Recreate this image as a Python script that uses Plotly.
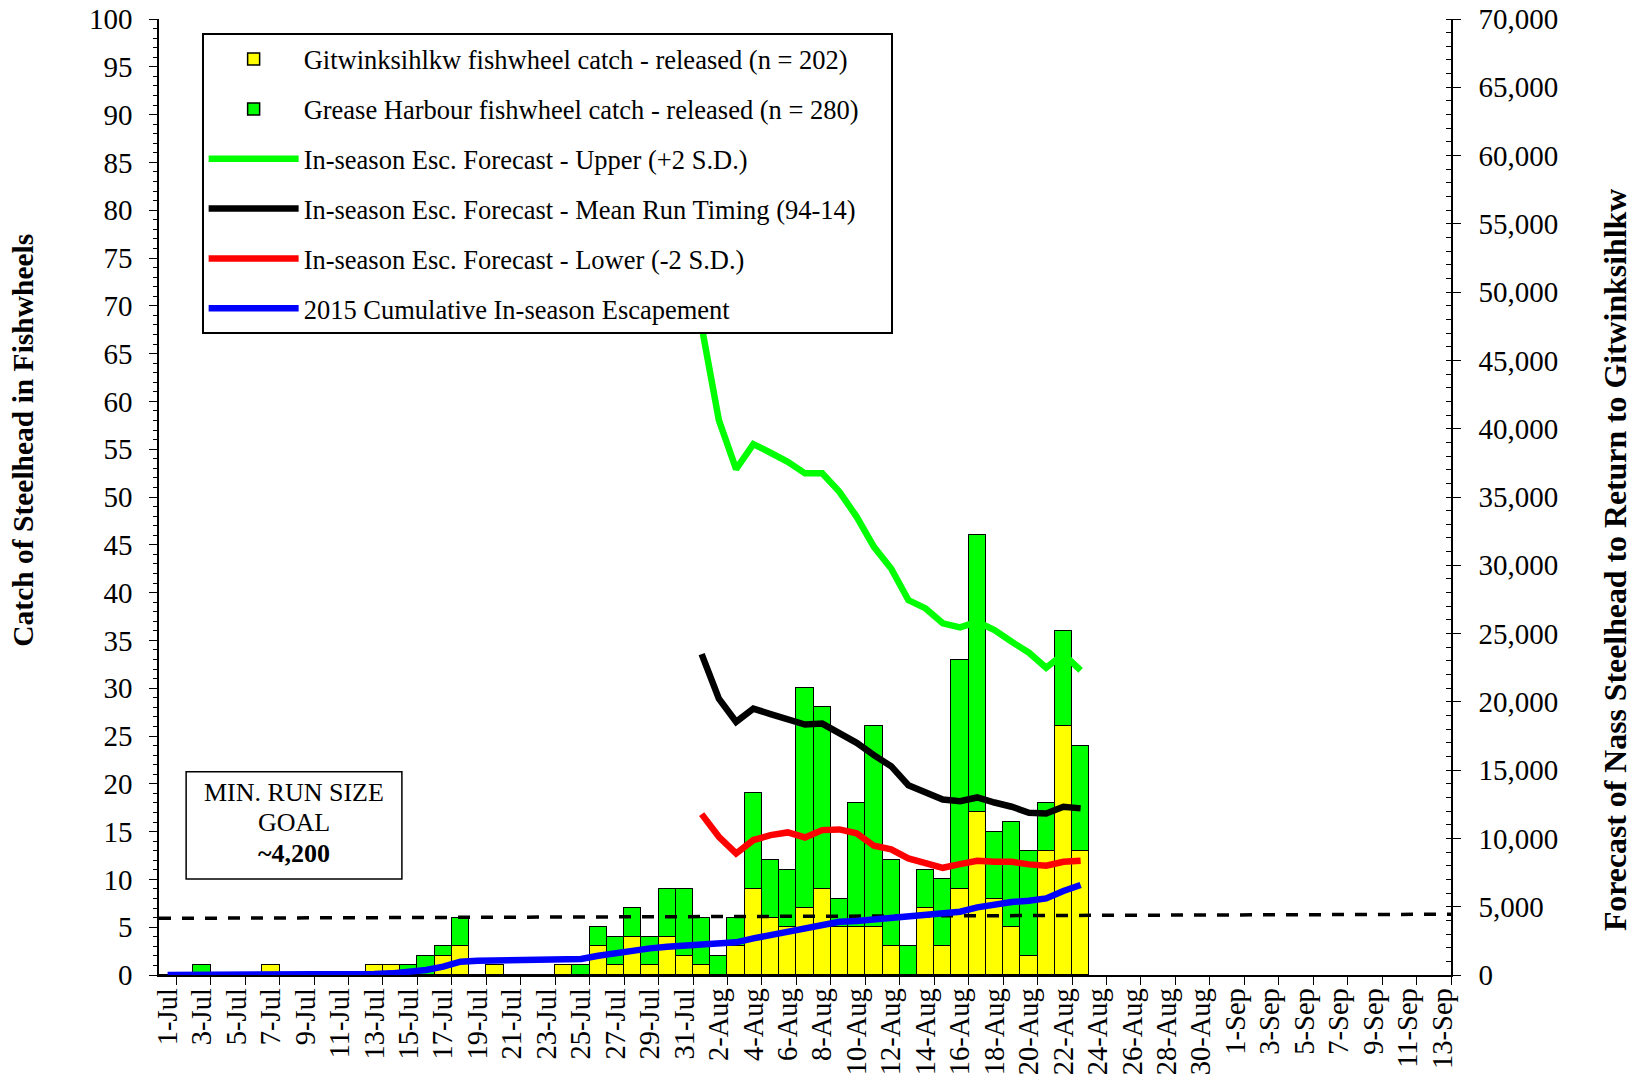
import plotly.graph_objects as go

# ---------------- data ----------------
# day index 0 = 1-Jul ... 74 = 13-Sep
TICK_LABELS = ["1-Jul", "3-Jul", "5-Jul", "7-Jul", "9-Jul", "11-Jul", "13-Jul", "15-Jul",
               "17-Jul", "19-Jul", "21-Jul", "23-Jul", "25-Jul", "27-Jul", "29-Jul", "31-Jul",
               "2-Aug", "4-Aug", "6-Aug", "8-Aug", "10-Aug", "12-Aug", "14-Aug", "16-Aug",
               "18-Aug", "20-Aug", "22-Aug", "24-Aug", "26-Aug", "28-Aug", "30-Aug",
               "1-Sep", "3-Sep", "5-Sep", "7-Sep", "9-Sep", "11-Sep", "13-Sep"]
N_DAYS = 75

# Gitwinksihlkw fishwheel catch (1-Jul .. 23-Aug)
gitwinksihlkw = [0, 0, 0, 0, 0, 0, 1, 0, 0, 0, 0, 0, 1, 1, 0, 0, 2, 3, 0, 1,
                 0, 0, 0, 1, 0, 3, 1, 4, 1, 4, 2,
                 1, 0, 3, 9, 6, 5, 7, 9, 5, 5, 5, 3, 0, 7, 3, 9, 17, 8, 5, 2, 13, 26, 13]
# Grease Harbour fishwheel catch (1-Jul .. 23-Aug)
grease_harbour = [0, 0, 1, 0, 0, 0, 0, 0, 0, 0, 0, 0, 0, 0, 1, 2, 1, 3, 0, 0,
                  0, 0, 0, 0, 1, 2, 3, 3, 3, 5, 7,
                  5, 2, 3, 10, 6, 6, 23, 19, 3, 13, 21, 9, 3, 4, 7, 24, 29, 7, 11, 11, 5, 10, 11]

# Forecast lines start on 1-Aug (day index 31)
FORECAST_START = 31
upper = [47500, 40630, 37040, 38870, 38240, 37580, 36730, 36730, 35380, 33550, 31350, 29770,
         27450, 26840, 25750, 25450, 25860, 25250, 24400, 23600, 22500, 23500, 22300]
mean_run = [23490, 20240, 18540, 19510, 19100, 18780, 18340, 18410, 17750, 17000, 16100, 15290,
            13900, 13410, 12850, 12730, 13000, 12630, 12320, 11880, 11830, 12320, 12200]
lower = [11780, 10120, 8900, 9880, 10240, 10440, 10070, 10610, 10660, 10370, 9460, 9200,
         8540, 8220, 7850, 8120, 8370, 8290, 8290, 8100, 8000, 8290, 8370]
# 2015 cumulative in-season escapement (1-Jul .. 23-Aug)
cumulative = [0, 0, 30, 30, 30, 30, 60, 60, 60, 60, 60, 60, 80, 120, 220, 370, 610, 975, 1050, 1080,
              1080, 1080, 1080, 1100, 1170, 1410, 1590, 1880, 1950, 2070, 2150,
              2200, 2240, 2390, 2680, 2930, 3120, 3340, 3630, 3900, 3950, 4070, 4150, 4200, 4320,
              4440, 4630, 4950, 5200, 5340, 5440, 5610, 6150, 6590]
# Minimum run size goal line (drawn across the full axis)
GOAL_X = [-0.5, 74.5]
GOAL_Y = [4150, 4450]

FONT = "Liberation Serif, Times New Roman, serif"
PAD = "\u00a0" * 4

days = list(range(len(gitwinksihlkw)))
fc_days = list(range(FORECAST_START, FORECAST_START + len(upper)))

fig = go.Figure()
fig.add_trace(go.Bar(x=days, y=gitwinksihlkw, name="Gitwinksihlkw fishwheel catch - released (n = 202)" + PAD,
                     marker=dict(color="#FFFF00", line=dict(color="black", width=1.5)),
                     legendgroup="g1", yaxis="y"))
fig.add_trace(go.Bar(x=days, y=grease_harbour, name="Grease Harbour fishwheel catch - released (n = 280)" + PAD,
                     marker=dict(color="#00FF00", line=dict(color="black", width=1.5)),
                     legendgroup="g2", yaxis="y"))
fig.add_trace(go.Scatter(x=GOAL_X, y=GOAL_Y, mode="lines", showlegend=False,
                         line=dict(color="black", width=3.5, dash="12px,11px"), yaxis="y2"))
fig.add_trace(go.Scatter(x=fc_days, y=upper, mode="lines", name="In-season Esc. Forecast - Upper (+2 S.D.)" + PAD,
                         line=dict(color="#00FF00", width=6.5), legendgroup="g3", yaxis="y2"))
fig.add_trace(go.Scatter(x=fc_days, y=mean_run, mode="lines",
                         name="In-season Esc. Forecast - Mean Run Timing (94-14)" + PAD,
                         line=dict(color="black", width=6.5), legendgroup="g4", yaxis="y2"))
fig.add_trace(go.Scatter(x=fc_days, y=lower, mode="lines", name="In-season Esc. Forecast - Lower (-2 S.D.)" + PAD,
                         line=dict(color="#FF0000", width=6.5), legendgroup="g5", yaxis="y2"))
fig.add_trace(go.Scatter(x=days, y=cumulative, mode="lines", name="2015 Cumulative In-season Escapement" + PAD,
                         line=dict(color="#0000FF", width=6.5), legendgroup="g6", yaxis="y2"))

tick_pos = list(range(0, N_DAYS, 2))
minor_pos = [i - 0.5 for i in range(1, N_DAYS, 2)] + [N_DAYS - 0.5]

# the page body adds an 8 px offset, so the margins are shifted to compensate
fig.update_layout(
    width=1635, height=1083,
    margin=dict(l=150.5, r=192, t=11, b=115.8, autoexpand=False),
    paper_bgcolor="white", plot_bgcolor="white",
    font=dict(family=FONT, size=27, color="black"),
    barmode="stack", bargap=0,
    showlegend=True,
    legend=dict(x=0.033, y=0.985, xanchor="left", yanchor="top",
                bgcolor="white", bordercolor="black", borderwidth=2,
                font=dict(family=FONT, size=26.5, color="black"),
                traceorder="grouped", tracegroupgap=12.4, itemwidth=90),
    xaxis=dict(range=[-0.5, N_DAYS - 0.5], tickmode="array", tickvals=tick_pos, ticktext=TICK_LABELS,
               tickangle=-90, ticks="", showgrid=False, zeroline=False, automargin=False,
               showline=True, linecolor="black", linewidth=1.5, ticklabeloverflow="allow",
               tickfont=dict(family=FONT, size=28.5),
               minor=dict(tickmode="array", tickvals=minor_pos, ticks="outside", ticklen=8,
                          tickcolor="black", tickwidth=1.2, showgrid=False)),
    yaxis=dict(range=[0, 100], dtick=5, tick0=0, ticks="outside", ticklen=8, tickcolor="black",
               tickwidth=1.2, showgrid=False, zeroline=False, showline=True, linecolor="black",
               linewidth=1.5, tickfont=dict(family=FONT, size=29), ticklabelstandoff=11,
               automargin=False, ticklabeloverflow="allow",
               minor=dict(dtick=1, ticks="outside", ticklen=4, tickcolor="black", tickwidth=1,
                          showgrid=False)),
    yaxis2=dict(range=[0, 70000], dtick=5000, tick0=0, overlaying="y", side="right", anchor="x",
                tickformat=",", ticks="outside", ticklen=8, tickcolor="black", tickwidth=1.2,
                showgrid=False, zeroline=False, showline=True, linecolor="black", linewidth=1.5,
                tickfont=dict(family=FONT, size=29), ticklabelstandoff=12, automargin=False,
                ticklabeloverflow="allow",
                minor=dict(dtick=1000, ticks="inside", ticklen=5, tickcolor="black", tickwidth=1,
                           showgrid=False)),
)

# axis titles
fig.add_annotation(text="<b>Catch of Steelhead in Fishwheels</b>", xref="paper", yref="paper",
                   x=-0.1048, y=0.5595, xanchor="center", yanchor="middle", textangle=-90,
                   showarrow=False, font=dict(family=FONT, size=29.5, color="black"))
fig.add_annotation(text="<b>Forecast of Nass Steelhead to Return to Gitwinksihlkw</b>", xref="paper",
                   yref="paper", x=1.1269, y=0.434, xanchor="center", yanchor="middle", textangle=-90,
                   showarrow=False, font=dict(family=FONT, size=31.8, color="black"))

# goal box
fig.add_shape(type="rect", xref="paper", yref="paper", x0=0.021, x1=0.188, y0=0.1004, y1=0.2127,
              line=dict(color="black", width=1.5), fillcolor="white", layer="above")
for txt, yy in [("MIN. RUN SIZE", 0.1909), ("GOAL", 0.1597), ("<b>~4,200</b>", 0.1276)]:
    fig.add_annotation(text=txt, xref="paper", yref="paper", x=0.1048, y=yy, xanchor="center",
                       yanchor="middle", showarrow=False,
                       font=dict(family=FONT, size=26, color="black"))

fig.write_html("out.html")
